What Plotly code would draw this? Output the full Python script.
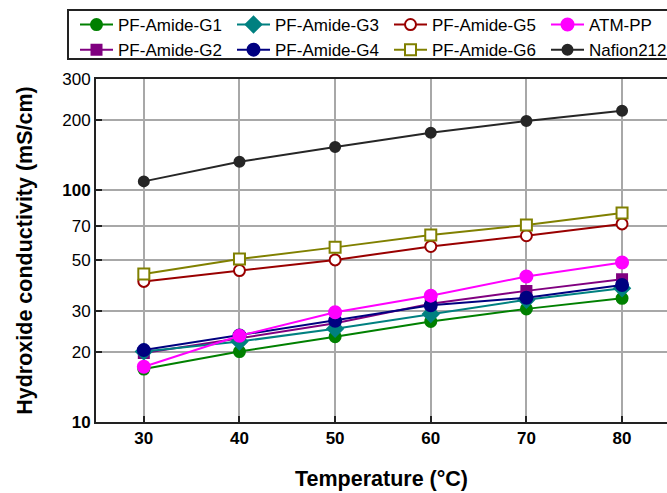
import plotly.graph_objects as go

temps = [30, 40, 50, 60, 70, 80]

g1 = [16.9, 20.1, 23.3, 27.1, 30.7, 34.1]
g2 = [19.8, 23.0, 26.6, 32.3, 36.7, 41.2]
g3 = [20.1, 22.2, 25.2, 29.2, 33.6, 37.7]
g4 = [20.4, 23.6, 27.3, 31.8, 34.3, 38.9]
g5 = [40.3, 44.9, 49.9, 57.0, 63.4, 71.3]
g6 = [43.4, 50.3, 56.5, 63.8, 70.6, 79.4]
atm = [17.3, 23.5, 29.7, 35.0, 42.3, 48.6]
nafion = [108.7, 132.0, 153.0, 176.0, 198.0, 219.0]

y_ticks = [10, 20, 30, 50, 70, 100, 200, 300]
y_tick_text = ["<b>10</b>", "20", "30", "50", "70", "<b>100</b>", "200", "300"]
x_ticks = [30, 40, 50, 60, 70, 80]

FONT = "Liberation Sans, Arial, sans-serif"

series = [
    # name, values, line color, symbol, fill, size, legendrank
    ("PF-Amide-G1", g1, "#008000", "circle", "#008000", 11, 1),
    ("PF-Amide-G2", g2, "#800080", "square", "#800080", 10, 5),
    ("PF-Amide-G3", g3, "#008080", "diamond", "#008080", 12, 2),
    ("PF-Amide-G4", g4, "#000080", "circle", "#000080", 12, 6),
    ("PF-Amide-G5", g5, "#990000", "circle", "#ffffff", 11, 3),
    ("PF-Amide-G6", g6, "#808000", "square", "#ffffff", 11, 7),
    ("ATM-PP", atm, "#ff00ff", "circle", "#ff00ff", 12, 4),
    ("Nafion212", nafion, "#262626", "circle", "#262626", 10, 8),
]

fig = go.Figure()
for name, vals, col, sym, fill, size, rank in series:
    fig.add_trace(go.Scatter(
        x=temps, y=vals, name=name, mode="lines+markers",
        line=dict(color=col, width=2),
        marker=dict(symbol=sym, size=size, color=fill,
                    line=dict(color=col, width=2)),
        legendrank=rank,
    ))

# legend frame (extends past the right edge like the reference)
fig.add_shape(type="rect", xref="paper", yref="paper",
              x0=(68 - 96) / 571, x1=1.2, y0=(422 - 59) / 343, y1=(422 - 10) / 343,
              line=dict(color="#222222", width=2), fillcolor="white", layer="below")

fig.update_layout(
    width=667, height=493,
    margin=dict(l=96, r=0, t=79, b=71, autoexpand=False),
    paper_bgcolor="white", plot_bgcolor="white",
    font=dict(family=FONT, color="black"),
    showlegend=True,
    legend=dict(
        orientation="h", x=(75 - 96) / 571, y=(422 - 7) / 343,
        xanchor="left", yanchor="top",
        borderwidth=0, bgcolor="rgba(0,0,0,0)",
        font=dict(family=FONT, size=17, color="black"),
        itemwidth=33, entrywidth=109, entrywidthmode="pixels",
        traceorder="normal",
    ),
)

fig.update_xaxes(
    range=[25, 84.7], tickvals=x_ticks,
    ticktext=[f"<b>{t}</b>" for t in x_ticks],
    tickfont=dict(family=FONT, size=17, color="black"),
    ticks="inside", ticklen=6, tickwidth=2, tickcolor="#222222",
    showline=True, linecolor="#222222", linewidth=2, mirror=True,
    showgrid=True, gridcolor="#a8a8a8", gridwidth=1.5,
    zeroline=False,
    title=dict(text="<b>Temperature (°C)</b>",
               font=dict(family=FONT, size=21.5, color="black"), standoff=24),
)
fig.update_yaxes(
    type="log", range=[1, 2.4771], tickvals=y_ticks, ticktext=y_tick_text,
    tickfont=dict(family=FONT, size=17, color="black"),
    ticks="inside", ticklen=6, tickwidth=2, tickcolor="#222222",
    showline=True, linecolor="#222222", linewidth=2, mirror=False,
    showgrid=True, gridcolor="#a8a8a8", gridwidth=1.5,
    zeroline=False,
    title=dict(text="<b>Hydroxide conductivity (mS/cm)</b>",
               font=dict(family=FONT, size=21.5, color="black"), standoff=24),
)

fig.write_html("out.html")
